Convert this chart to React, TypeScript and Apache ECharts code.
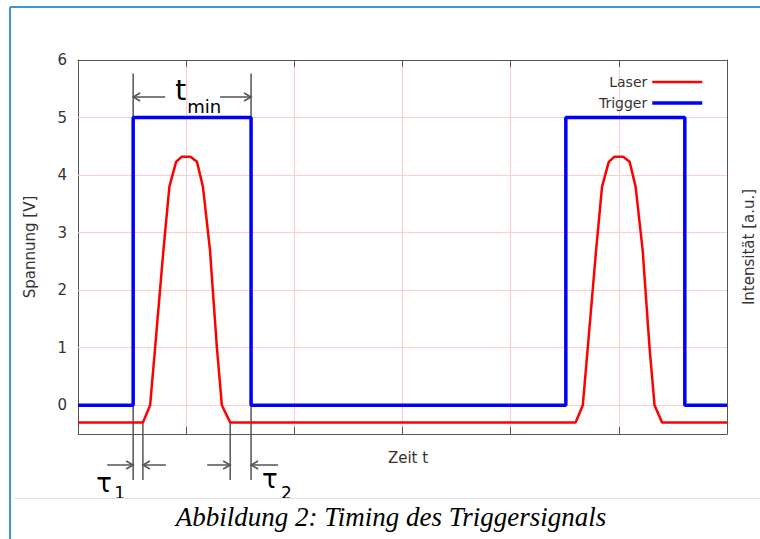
import React, { useEffect, useRef } from "react";
import * as echarts from "echarts";

// Time axis (arbitrary units, 6 grid divisions)
const xTicks = [0, 1, 2, 3, 4, 5, 6];
const yTicks = [0, 1, 2, 3, 4, 5, 6];
const yGridValues = [0, 1, 2, 3, 4, 5];

// Trigger signal (voltage levels)
const triggerT = [0, 0.51, 0.51, 1.6, 1.6, 4.51, 4.51, 5.61, 5.61, 6];
const triggerV = [0, 0, 5, 5, 0, 0, 5, 5, 0, 0];

// Laser intensity (arb. units)
const laserT = [
  0, 0.6, 0.667, 0.713, 0.79, 0.845, 0.907, 0.96, 1.04, 1.1, 1.155, 1.22, 1.284, 1.33, 1.407,
  4.6, 4.667, 4.713, 4.79, 4.845, 4.907, 4.96, 5.04, 5.1, 5.155, 5.22, 5.284, 5.33, 5.4, 6,
];
const laserV = [
  -0.3, -0.3, 0, 1.0, 2.7, 3.8, 4.23, 4.32, 4.32, 4.23, 3.8, 2.7, 1.0, 0, -0.3,
  -0.3, 0, 1.0, 2.7, 3.8, 4.23, 4.32, 4.32, 4.23, 3.8, 2.7, 1.0, 0, -0.3, -0.3,
];

// Annotation time marks
const tMinSpan = [0.51, 1.6];
const tau1Span = [0.51, 0.6];
const tau2Span = [1.407, 1.6];
const triggerLow = 0;
const triggerHigh = 5;
const laserBase = -0.3;

const SANS = '"DejaVu Sans", sans-serif';
const AX = "#555";
const GRID = "#ffcccc";

export default function App() {
  const ref = useRef<HTMLDivElement>(null);
  useEffect(() => {
    const chart = echarts.init(ref.current!, null, { renderer: "svg" });
    const triggerData = triggerT.map((t, i) => [t, triggerV[i]]);
    const laserData = laserT.map((t, i) => [t, laserV[i]]);
    const tickStyle = { show: true, inside: true, length: 7, lineStyle: { color: AX, width: 1 } };
    const lineStyle = { show: true, onZero: false, lineStyle: { color: AX, width: 1 } };
    const nameStyle = { fontFamily: SANS, fontSize: 15, color: "#333" };
    chart.setOption({
      animation: false,
      backgroundColor: "#fff",
      grid: { left: 78, right: 33, top: 60, bottom: 105, containLabel: false, outerBoundsMode: "none" },
      legend: {
        data: ["Laser", "Trigger"],
        orient: "vertical",
        right: 51,
        top: 70,
        align: "right",
        itemWidth: 50,
        itemHeight: 14,
        itemGap: 7,
        itemStyle: { opacity: 0 },
        lineStyle: { width: "inherit" },
        textStyle: { fontFamily: SANS, fontSize: 14, color: "#333" },
      },
      xAxis: [
        {
          type: "value",
          min: 0,
          max: 6,
          interval: 1,
          position: "bottom",
          axisLine: lineStyle,
          axisTick: tickStyle,
          axisLabel: { show: false },
          splitLine: { show: true, lineStyle: { color: GRID, width: 1 } },
          name: "Zeit t",
          nameLocation: "middle",
          nameGap: 16,
          nameTextStyle: { ...nameStyle, padding: [0, 0, 0, 11] },
        },
        {
          type: "value",
          min: 0,
          max: 6,
          interval: 1,
          position: "top",
          axisLine: lineStyle,
          axisTick: tickStyle,
          axisLabel: { show: false },
          splitLine: { show: false },
        },
      ],
      yAxis: [
        {
          type: "value",
          min: -0.5,
          max: 6,
          position: "left",
          axisLine: lineStyle,
          axisTick: { ...tickStyle, customValues: yTicks },
          axisLabel: {
            customValues: yTicks,
            fontFamily: SANS,
            fontSize: 15,
            color: "#333",
            margin: 11,
          },
          splitLine: { show: false },
          name: "Spannung [V]",
          nameLocation: "middle",
          nameGap: 41,
          nameTextStyle: nameStyle,
        },
        {
          type: "value",
          min: -0.5,
          max: 6,
          position: "right",
          axisLine: lineStyle,
          axisTick: { ...tickStyle, customValues: yTicks },
          axisLabel: { show: false, customValues: yTicks },
          splitLine: { show: false },
          name: "Intensität [a.u.]",
          nameLocation: "middle",
          nameGap: 14,
          nameTextStyle: nameStyle,
        },
      ],
      series: [
        {
          name: "grid",
          type: "line",
          data: [],
          z: 1,
          silent: true,
          markLine: {
            silent: true,
            z: 1,
            symbol: ["none", "none"],
            label: { show: false },
            lineStyle: { color: GRID, width: 1, type: "solid" },
            data: yGridValues.map((v) => ({ yAxis: v })),
          },
        },
        {
          name: "Laser",
          type: "line",
          data: laserData,
          symbol: "none",
          showSymbol: false,
          z: 3,
          lineStyle: { color: "#ff0000", width: 2.5 },
          itemStyle: { color: "#ff0000" },
        },
        {
          name: "Trigger",
          type: "line",
          data: triggerData,
          symbol: "none",
          showSymbol: false,
          z: 4,
          lineStyle: { color: "#0000ff", width: 3.5 },
          itemStyle: { color: "#0000ff" },
        },
      ],
    });

    const px = (x: number) => chart.convertToPixel({ xAxisIndex: 0 }, x) as number;
    const py = (y: number) => chart.convertToPixel({ yAxisIndex: 0 }, y) as number;
    const g: any[] = [];
    const vline = (x: number, y1: number, y2: number) =>
      g.push({ type: "line", silent: true, shape: { x1: x, y1, x2: x, y2 }, style: { stroke: AX, lineWidth: 1.5 } });
    const arrow = (from: number, tip: number, y: number) => {
      const d = tip > from ? 1 : -1;
      g.push({ type: "line", silent: true, shape: { x1: from, y1: y, x2: tip, y2: y }, style: { stroke: AX, lineWidth: 1.5 } });
      g.push({
        type: "polyline",
        silent: true,
        shape: { points: [[tip - d * 7, y - 4], [tip, y], [tip - d * 7, y + 4]] },
        style: { stroke: AX, fill: "none", lineWidth: 1.5 },
      });
    };
    const txt = (text: string, x: number, y: number, size: number, font = SANS, style = "normal", align = "left") =>
      g.push({
        type: "text",
        silent: true,
        x,
        y,
        style: { text, fontFamily: font, fontSize: size, fontStyle: style, fill: "#000", align, verticalAlign: "middle" },
      });

    // t_min
    const a = px(tMinSpan[0]);
    const b = px(tMinSpan[1]);
    const yTop = py(triggerHigh) - 44;
    vline(a, yTop, py(triggerHigh));
    vline(b, yTop, py(triggerHigh));
    arrow(a + 32, a, 97);
    arrow(b - 31, b, 97);
    txt("t", a + 42, 90, 28);
    txt("min", a + 54, 106, 18);

    // tau1
    const bottomY = 480;
    const t1a = px(tau1Span[0]);
    const t1b = px(tau1Span[1]);
    vline(t1a, py(triggerLow), bottomY);
    vline(t1b, py(laserBase), bottomY);
    arrow(t1a - 26, t1a, 465);
    arrow(t1b + 23, t1b, 465);
    txt("τ", t1a - 37, 483, 26);
    txt("1", t1a - 19, 493, 17);

    // tau2
    const t2a = px(tau2Span[0]);
    const t2b = px(tau2Span[1]);
    vline(t2a, py(laserBase), bottomY);
    vline(t2b, py(triggerLow), bottomY);
    arrow(t2a - 23, t2a, 465);
    arrow(t2b + 27, t2b, 465);
    txt("τ", t2b + 11, 479, 26);
    txt("2", t2b + 30, 492.5, 17);

    // frame and caption
    g.push({ type: "line", silent: true, shape: { x1: 10, y1: 7, x2: 10, y2: 539 }, style: { stroke: "#3c97d6", lineWidth: 2 } });
    g.push({ type: "line", silent: true, shape: { x1: 10, y1: 7, x2: 760, y2: 7 }, style: { stroke: "#3c97d6", lineWidth: 2 } });
    g.push({ type: "line", silent: true, shape: { x1: 14, y1: 498.5, x2: 760, y2: 498.5 }, style: { stroke: "#e4e4e4", lineWidth: 1 } });
    txt("Abbildung 2: Timing des Triggersignals", 391, 517, 27, '"Liberation Serif", serif', "italic", "center");

    chart.setOption({ graphic: g });
    return () => chart.dispose();
  }, []);
  return <div ref={ref} style={{ position: "absolute", left: 0, top: 0, width: 760, height: 539 }} />;
}
